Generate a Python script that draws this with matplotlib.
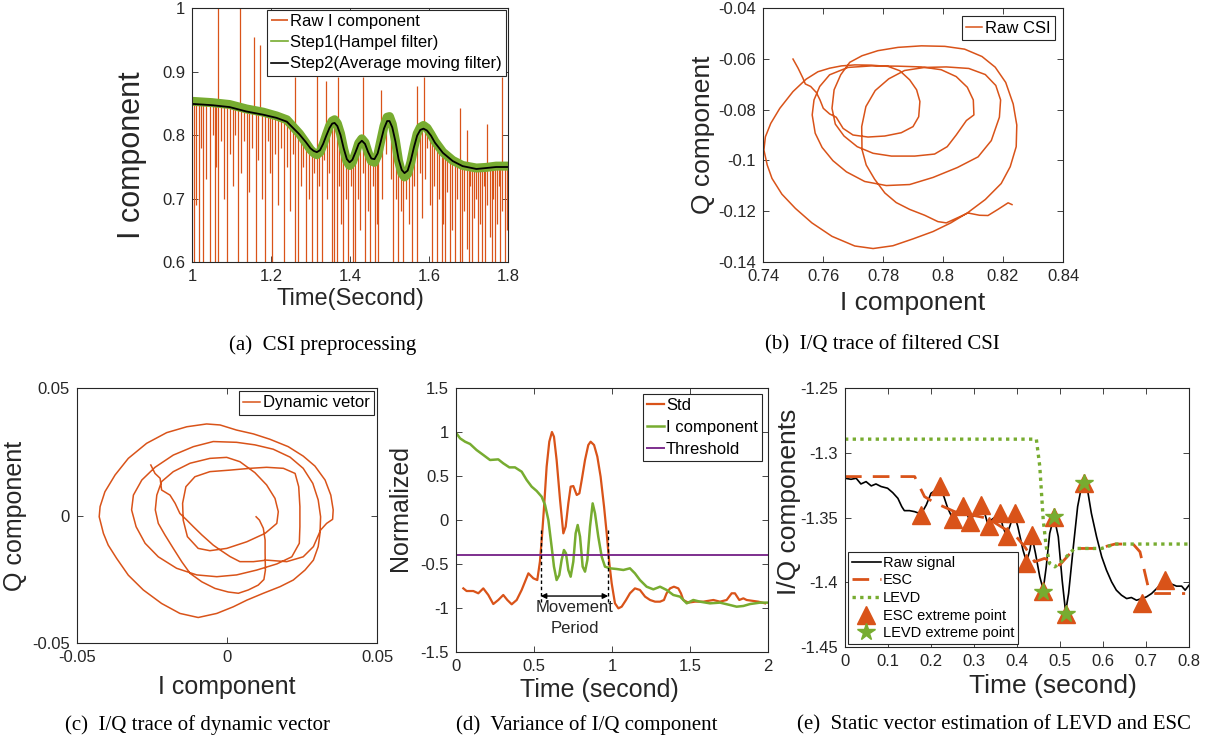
import matplotlib
matplotlib.use('Agg')
import matplotlib.pyplot as plt
from matplotlib.ticker import FormatStrFormatter

plt.rcParams['font.family'] = ['Liberation Sans', 'DejaVu Sans']
plt.rcParams['axes.unicode_minus'] = False

RED = '#D95319'
GREEN = '#77AC30'
PURPLE = '#7E2F8E'
AXC = '#262626'

# ---------------- (a) CSI preprocessing ----------------
a_t = [1.000, 1.050, 1.095, 1.138, 1.180, 1.214, 1.240, 1.256, 1.272, 1.288, 1.300, 1.308,
       1.316, 1.324, 1.332, 1.340, 1.348, 1.355, 1.361, 1.368, 1.376, 1.384, 1.392, 1.399,
       1.406, 1.414, 1.422, 1.430, 1.438, 1.446, 1.454, 1.462, 1.470, 1.478, 1.486, 1.494,
       1.500, 1.507, 1.515, 1.523, 1.531, 1.538, 1.546, 1.554, 1.562, 1.570, 1.578, 1.586,
       1.595, 1.605, 1.615, 1.635, 1.660, 1.685, 1.720, 1.745, 1.770, 1.800]
a_step2 = [0.849, 0.847, 0.844, 0.837, 0.832, 0.827, 0.821, 0.811, 0.801, 0.789, 0.779, 0.775,
           0.773, 0.776, 0.786, 0.799, 0.811, 0.818, 0.819, 0.814, 0.800, 0.779, 0.762, 0.757,
           0.761, 0.773, 0.786, 0.791, 0.786, 0.773, 0.763, 0.762, 0.771, 0.790, 0.810, 0.822,
           0.822, 0.812, 0.790, 0.762, 0.745, 0.740, 0.744, 0.760, 0.781, 0.799, 0.808, 0.810,
           0.807, 0.799, 0.788, 0.772, 0.759, 0.751, 0.7465, 0.748, 0.7496, 0.7496]
a_step1 = [0.853, 0.851, 0.848, 0.841, 0.836, 0.830, 0.824, 0.813, 0.802, 0.788, 0.777, 0.772,
           0.769, 0.773, 0.785, 0.800, 0.814, 0.822, 0.824, 0.818, 0.802, 0.778, 0.759, 0.752,
           0.757, 0.771, 0.787, 0.794, 0.788, 0.772, 0.759, 0.757, 0.768, 0.791, 0.814, 0.828,
           0.829, 0.817, 0.791, 0.759, 0.740, 0.734, 0.739, 0.757, 0.781, 0.802, 0.812, 0.815,
           0.811, 0.801, 0.790, 0.773, 0.760, 0.752, 0.748, 0.749, 0.751, 0.751]

# raw outliers pointing down: time, lowest value, value where the spike leaves the signal
a_down_t = [1.004, 1.010, 1.018, 1.024, 1.029, 1.036, 1.046, 1.052, 1.057, 1.062, 1.067, 1.074,
            1.081, 1.088, 1.095, 1.103, 1.110, 1.117, 1.124, 1.131, 1.138, 1.145, 1.152, 1.161,
            1.168, 1.176, 1.185, 1.192, 1.198, 1.203, 1.210, 1.218, 1.226, 1.234, 1.241, 1.248,
            1.255, 1.262, 1.269, 1.276, 1.282, 1.288, 1.295, 1.303, 1.310, 1.316, 1.322, 1.328,
            1.335, 1.342, 1.348, 1.354, 1.360, 1.366, 1.372, 1.378, 1.383, 1.390, 1.396, 1.403,
            1.408, 1.413, 1.420, 1.426, 1.432, 1.438, 1.445, 1.451, 1.457, 1.463, 1.468, 1.472,
            1.480, 1.492, 1.503, 1.510, 1.516, 1.522, 1.529, 1.535, 1.542, 1.549, 1.556, 1.562,
            1.569, 1.576, 1.583, 1.590, 1.596, 1.602, 1.607, 1.613, 1.619, 1.626, 1.632, 1.636,
            1.640, 1.646, 1.653, 1.659, 1.666, 1.672, 1.678, 1.683, 1.689, 1.695, 1.700, 1.704,
            1.708, 1.714, 1.720, 1.725, 1.729, 1.733, 1.738, 1.742, 1.748, 1.754, 1.759, 1.763,
            1.767, 1.772, 1.776, 1.780, 1.786, 1.792, 1.797]
a_down_lo = [0.60, 0.69, 0.60, 0.78, 0.60, 0.73, 0.60, 0.80, 0.60, 0.75, 0.60, 0.79,
             0.70, 0.60, 0.77, 0.72, 0.80, 0.60, 0.74, 0.79, 0.60, 0.71, 0.78, 0.60,
             0.76, 0.70, 0.60, 0.79, 0.74, 0.60, 0.77, 0.69, 0.78, 0.60, 0.75, 0.68,
             0.77, 0.60, 0.60, 0.72, 0.75, 0.60, 0.70, 0.60, 0.74, 0.60, 0.72, 0.60,
             0.76, 0.70, 0.74, 0.60, 0.60, 0.60, 0.72, 0.66, 0.60, 0.70, 0.60, 0.72,
             0.60, 0.60, 0.70, 0.65, 0.74, 0.60, 0.68, 0.60, 0.72, 0.60, 0.66, 0.60,
             0.70, 0.77, 0.73, 0.60, 0.70, 0.60, 0.68, 0.60, 0.70, 0.66, 0.60, 0.72,
             0.60, 0.74, 0.67, 0.73, 0.78, 0.69, 0.60, 0.72, 0.60, 0.70, 0.60, 0.66,
             0.60, 0.71, 0.60, 0.65, 0.60, 0.70, 0.60, 0.60, 0.68, 0.62, 0.60, 0.72,
             0.60, 0.67, 0.70, 0.60, 0.66, 0.60, 0.72, 0.60, 0.69, 0.64, 0.60, 0.70,
             0.60, 0.66, 0.72, 0.60, 0.68, 0.60, 0.65]
a_down_hi = [0.849, 0.849, 0.848, 0.848, 0.848, 0.848, 0.847, 0.847, 0.847, 0.846, 0.846, 0.846,
             0.845, 0.845, 0.844, 0.843, 0.842, 0.841, 0.840, 0.838, 0.837, 0.836, 0.835, 0.834,
             0.833, 0.832, 0.831, 0.830, 0.829, 0.828, 0.827, 0.826, 0.824, 0.821, 0.818, 0.815,
             0.811, 0.806, 0.801, 0.797, 0.792, 0.788, 0.782, 0.777, 0.773, 0.773, 0.776, 0.782,
             0.790, 0.801, 0.810, 0.815, 0.819, 0.815, 0.806, 0.793, 0.781, 0.770, 0.760, 0.759,
             0.764, 0.770, 0.782, 0.789, 0.790, 0.786, 0.775, 0.766, 0.762, 0.764, 0.768, 0.775,
             0.800, 0.821, 0.815, 0.795, 0.778, 0.765, 0.750, 0.743, 0.742, 0.748, 0.776, 0.790,
             0.800, 0.806, 0.809, 0.809, 0.806, 0.801, 0.797, 0.790, 0.785, 0.779, 0.775, 0.773,
             0.770, 0.767, 0.763, 0.760, 0.757, 0.754, 0.752, 0.751, 0.750, 0.749, 0.748, 0.748,
             0.747, 0.747, 0.7465, 0.7465, 0.747, 0.747, 0.747, 0.748, 0.748, 0.748, 0.749, 0.749,
             0.749, 0.749, 0.749, 0.749, 0.750, 0.750, 0.750]
# raw outliers pointing up
a_up_t = [1.066, 1.121, 1.156, 1.173, 1.262, 1.317, 1.340, 1.370, 1.434, 1.478, 1.569, 1.588,
          1.678, 1.695, 1.746, 1.784]
a_up_tip = [1.00, 1.00, 0.955, 0.942, 0.892, 0.895, 0.885, 0.892, 0.892, 0.871, 0.877, 0.892,
            0.842, 0.808, 0.818, 0.892]
a_up_base = [0.846, 0.840, 0.835, 0.833, 0.806, 0.773, 0.798, 0.811, 0.790, 0.795, 0.800, 0.809,
             0.752, 0.749, 0.748, 0.749]

# ---------------- (b) I/Q trace of filtered CSI ----------------
b_i = [0.7500, 0.7517, 0.7533, 0.7541, 0.7559, 0.7578, 0.7590, 0.7601, 0.7622, 0.7644, 0.7667,
       0.7700, 0.7750, 0.7806, 0.7861, 0.7900, 0.7919, 0.7923, 0.7912, 0.7889, 0.7856, 0.7817,
       0.7761, 0.7706, 0.7661, 0.7622, 0.7583, 0.7544, 0.7500, 0.7456, 0.7426, 0.7408, 0.7403,
       0.7414, 0.7430, 0.7463, 0.7508, 0.7563, 0.7630, 0.7706, 0.7767, 0.7833, 0.7900, 0.7967,
       0.8026, 0.8081, 0.8141, 0.8194, 0.8224, 0.8244, 0.8246, 0.8234, 0.8209, 0.8174, 0.8130,
       0.8072, 0.8006, 0.7928, 0.7850, 0.7783, 0.7730, 0.7689, 0.7659, 0.7637, 0.7630, 0.7641,
       0.7670, 0.7714, 0.7767, 0.7828, 0.7906, 0.7972, 0.8014, 0.8044, 0.8078, 0.8103, 0.8101,
       0.8081, 0.8044, 0.7994, 0.7928, 0.7850, 0.7761, 0.7683, 0.7622, 0.7589, 0.7570, 0.7564,
       0.7574, 0.7597, 0.7633, 0.7678, 0.7739, 0.7811, 0.7889, 0.7967, 0.8048, 0.8117, 0.8161,
       0.8188, 0.8192, 0.8176, 0.8141, 0.8086, 0.8011, 0.7939, 0.7872, 0.7819, 0.7774, 0.7743,
       0.7729, 0.7730, 0.7744, 0.7772, 0.7806, 0.7844, 0.7889, 0.7939, 0.7983, 0.8011, 0.8050,
       0.8083, 0.8122, 0.8150, 0.8183, 0.8217, 0.8230]
b_q = [-0.0601, -0.0637, -0.0676, -0.0699, -0.0709, -0.0733, -0.0762, -0.0795, -0.0817, -0.0830,
       -0.0874, -0.0900, -0.0908, -0.0904, -0.0891, -0.0867, -0.0828, -0.0768, -0.0722, -0.0683,
       -0.0647, -0.0630, -0.0625, -0.0624, -0.0628, -0.0637, -0.0651, -0.0680, -0.0729, -0.0795,
       -0.0854, -0.0907, -0.0959, -0.1018, -0.1071, -0.1133, -0.1189, -0.1246, -0.1299, -0.1337,
       -0.1347, -0.1336, -0.1309, -0.1280, -0.1246, -0.1207, -0.1154, -0.1091, -0.1025, -0.0946,
       -0.0861, -0.0778, -0.0693, -0.0633, -0.0591, -0.0562, -0.0551, -0.0549, -0.0555, -0.0568,
       -0.0588, -0.0614, -0.0663, -0.0722, -0.0795, -0.0857, -0.0904, -0.0946, -0.0972, -0.0983,
       -0.0983, -0.0975, -0.0946, -0.0900, -0.0843, -0.0821, -0.0762, -0.0712, -0.0670, -0.0643,
       -0.0632, -0.0629, -0.0628, -0.0634, -0.0663, -0.0709, -0.0762, -0.0821, -0.0893, -0.0949,
       -0.1001, -0.1045, -0.1083, -0.1099, -0.1095, -0.1067, -0.1028, -0.0986, -0.0922, -0.0830,
       -0.0762, -0.0705, -0.0662, -0.0638, -0.0632, -0.0634, -0.0646, -0.0679, -0.0725, -0.0788,
       -0.0867, -0.0957, -0.1018, -0.1074, -0.1128, -0.1166, -0.1193, -0.1216, -0.1241, -0.1246,
       -0.1225, -0.1207, -0.1216, -0.1217, -0.1193, -0.1167, -0.1174]

# ---------------- (c) I/Q trace of dynamic vector ----------------
c_i = [-0.0254, -0.0240, -0.0223, -0.0218, -0.0190, -0.0173, -0.0157, -0.0134, -0.0112, -0.0084,
       -0.0046, -0.0023, 0.0010, 0.0043, 0.0088, 0.0132, 0.0199, 0.0254, 0.0288, 0.0312, 0.0332,
       0.0352, 0.0354, 0.0346, 0.0327, 0.0293, 0.0254, 0.0204, 0.0143, 0.0088, 0.0032, -0.0023,
       -0.0068, -0.0134, -0.0201, -0.0268, -0.0329, -0.0373, -0.0407, -0.0423, -0.0426, -0.0412,
       -0.0396, -0.0368, -0.0329, -0.0279, -0.0218, -0.0157, -0.0096, -0.0034, 0.0021, 0.0066,
       0.0121, 0.0177, 0.0221, 0.0260, 0.0288, 0.0304, 0.0310, 0.0312, 0.0304, 0.0286, 0.0254,
       0.0210, 0.0154, 0.0093, 0.0032, -0.0046, -0.0112, -0.0179, -0.0240, -0.0284, -0.0312,
       -0.0318, -0.0303, -0.0273, -0.0229, -0.0168, -0.0101, -0.0034, 0.0032, 0.0099, 0.0166,
       0.0216, 0.0241, 0.0243, 0.0243, 0.0239, 0.0227, 0.0188, 0.0132, 0.0077, 0.0010, -0.0057,
       -0.0107, -0.0137, -0.0148, -0.0146, -0.0132, -0.0096, -0.0057, -0.0001, 0.0066, 0.0127,
       0.0166, 0.0171, 0.0160, 0.0132, 0.0093, 0.0043, -0.0001, -0.0057, -0.0123, -0.0179,
       -0.0218, -0.0234, -0.0239, -0.0229, -0.0207, -0.0179, -0.0151, -0.0123, -0.0084, -0.0040,
       0.0004, 0.0038, 0.0071, 0.0104, 0.0123, 0.0128, 0.0127, 0.0127, 0.0121, 0.0108, 0.0097]
c_q = [0.0198, 0.0165, 0.0146, 0.0100, 0.0080, 0.0048, 0.0008, -0.0018, -0.0044, -0.0076,
       -0.0116, -0.0135, -0.0161, -0.0181, -0.0181, -0.0175, -0.0181, -0.0162, -0.0122, -0.0057,
       -0.0031, -0.0015, 0.0022, 0.0080, 0.0139, 0.0194, 0.0233, 0.0270, 0.0299, 0.0320, 0.0335,
       0.0355, 0.0359, 0.0348, 0.0325, 0.0283, 0.0224, 0.0159, 0.0093, 0.0035, -0.0005, -0.0070,
       -0.0116, -0.0168, -0.0234, -0.0292, -0.0345, -0.0384, -0.0400, -0.0384, -0.0358, -0.0332,
       -0.0305, -0.0279, -0.0253, -0.0214, -0.0175, -0.0122, -0.0070, -0.0005, 0.0061, 0.0126,
       0.0185, 0.0229, 0.0260, 0.0277, 0.0287, 0.0290, 0.0270, 0.0237, 0.0189, 0.0139, 0.0080,
       0.0022, -0.0044, -0.0109, -0.0162, -0.0207, -0.0233, -0.0240, -0.0233, -0.0214, -0.0190,
       -0.0162, -0.0109, -0.0044, 0.0035, 0.0113, 0.0165, 0.0185, 0.0189, 0.0185, 0.0178, 0.0172,
       0.0152, 0.0113, 0.0048, -0.0018, -0.0083, -0.0129, -0.0138, -0.0129, -0.0103, -0.0070,
       -0.0031, 0.0015, 0.0067, 0.0120, 0.0168, 0.0211, 0.0228, 0.0224, 0.0205, 0.0172,
       0.0133, 0.0080, 0.0022, -0.0031, -0.0076, -0.0129, -0.0181, -0.0227, -0.0260, -0.0286,
       -0.0300, -0.0305, -0.0292, -0.0273, -0.0251, -0.0214, -0.0148, -0.0096, -0.0050, -0.0018,
       -0.0005]

# ---------------- (d) Variance of I/Q component ----------------
d_std_t = [0.047, 0.068, 0.111, 0.143, 0.175, 0.207, 0.239, 0.271, 0.303, 0.329, 0.357, 0.389,
           0.421, 0.464, 0.496, 0.521, 0.538, 0.551, 0.566, 0.581, 0.598, 0.615, 0.628, 0.645,
           0.667, 0.688, 0.703, 0.720, 0.735, 0.752, 0.774, 0.791, 0.806, 0.827, 0.848, 0.863,
           0.885, 0.906, 0.927, 0.949, 0.966, 0.983, 0.998, 1.019, 1.041, 1.062, 1.090, 1.115,
           1.147, 1.179, 1.212, 1.244, 1.276, 1.308, 1.333, 1.350, 1.372, 1.397, 1.425, 1.442,
           1.457, 1.489, 1.532, 1.585, 1.650, 1.692, 1.735, 1.767, 1.788, 1.816, 1.842, 1.863,
           1.895, 1.938, 1.981]
d_std = [-0.777, -0.807, -0.807, -0.833, -0.777, -0.852, -0.955, -0.909, -0.852, -0.909, -0.958,
         -0.909, -0.795, -0.606, -0.663, -0.682, -0.473, -0.189, 0.189, 0.606, 0.890, 1.000,
         0.947, 0.682, 0.227, -0.152, -0.076, 0.189, 0.379, 0.386, 0.284, 0.303, 0.455, 0.682,
         0.852, 0.890, 0.852, 0.720, 0.492, 0.152, -0.152, -0.492, -0.720, -0.947, -1.004,
         -0.985, -0.909, -0.833, -0.777, -0.795, -0.871, -0.909, -0.928, -0.928, -0.909, -0.833,
         -0.777, -0.758, -0.777, -0.833, -0.909, -0.939, -0.928, -0.928, -0.909, -0.928, -0.909,
         -0.833, -0.833, -0.909, -0.890, -0.909, -0.917, -0.928, -0.947]
d_i_t = [0.0, 0.026, 0.058, 0.090, 0.132, 0.175, 0.218, 0.271, 0.303, 0.342, 0.378, 0.421,
         0.453, 0.485, 0.517, 0.549, 0.571, 0.592, 0.613, 0.628, 0.645, 0.662, 0.677, 0.692,
         0.705, 0.720, 0.735, 0.752, 0.767, 0.780, 0.795, 0.812, 0.827, 0.842, 0.859, 0.876,
         0.891, 0.912, 0.934, 0.955, 0.987, 1.030, 1.073, 1.115, 1.147, 1.179, 1.222, 1.265,
         1.308, 1.350, 1.393, 1.436, 1.479, 1.521, 1.564, 1.628, 1.692, 1.756, 1.799, 1.842,
         1.885, 1.949, 2.0]
d_i = [0.992, 0.928, 0.890, 0.864, 0.795, 0.739, 0.682, 0.689, 0.644, 0.598, 0.598, 0.549,
       0.455, 0.379, 0.330, 0.265, 0.170, 0.0, -0.303, -0.530, -0.682, -0.625, -0.455, -0.341,
       -0.379, -0.568, -0.644, -0.473, -0.152, -0.057, -0.189, -0.530, -0.587, -0.455, -0.076,
       0.189, 0.076, -0.189, -0.417, -0.530, -0.549, -0.557, -0.568, -0.549, -0.606, -0.682,
       -0.758, -0.788, -0.758, -0.795, -0.852, -0.871, -0.947, -0.909, -0.928, -0.947, -0.939,
       -0.966, -0.985, -0.977, -0.955, -0.939, -0.939]
d_threshold = -0.4
d_period = [0.543, 0.976]

# ---------------- (e) Static vector estimation ----------------
e_t = [0.0, 0.014, 0.026, 0.037, 0.049, 0.061, 0.072, 0.084, 0.099, 0.111, 0.123, 0.132, 0.138,
       0.150, 0.162, 0.177, 0.189, 0.200, 0.212, 0.220, 0.230, 0.239, 0.249, 0.256, 0.266, 0.274,
       0.282, 0.290, 0.297, 0.308, 0.317, 0.325, 0.332, 0.340, 0.350, 0.360, 0.367, 0.375, 0.383,
       0.393, 0.402, 0.414, 0.422, 0.430, 0.435, 0.443, 0.453, 0.461, 0.468, 0.476, 0.486, 0.496,
       0.505, 0.513, 0.520, 0.531, 0.541, 0.550, 0.555, 0.564, 0.573, 0.585, 0.597, 0.608, 0.620,
       0.631, 0.643, 0.655, 0.666, 0.678, 0.690, 0.701, 0.713, 0.725, 0.736, 0.748, 0.760, 0.771,
       0.783, 0.791, 0.800]
e_raw = [-1.3197, -1.3205, -1.3197, -1.3241, -1.3223, -1.3256, -1.3241, -1.3261, -1.3274,
         -1.3308, -1.3352, -1.3416, -1.3447, -1.3447, -1.3455, -1.3473, -1.3403, -1.3313,
         -1.3287, -1.3274, -1.3339, -1.3429, -1.3499, -1.3473, -1.3437, -1.3411, -1.3463,
         -1.3519, -1.3494, -1.3455, -1.3403, -1.3468, -1.3550, -1.3519, -1.3494, -1.3468,
         -1.3571, -1.3635, -1.3571, -1.3468, -1.3571, -1.3752, -1.3842, -1.3752, -1.3648,
         -1.3777, -1.3958, -1.4056, -1.3881, -1.3623, -1.3494, -1.3648, -1.3984, -1.4229,
         -1.4087, -1.3726, -1.3416, -1.3261, -1.3230, -1.3287, -1.3468, -1.3648, -1.3803,
         -1.3906, -1.3997, -1.4061, -1.4100, -1.4126, -1.4118, -1.4139, -1.4126, -1.4113,
         -1.4087, -1.4048, -1.4010, -1.4023, -1.4015, -1.4030, -1.4030, -1.4061, -1.4023]
e_esc_t = [0.0, 0.162, 0.185, 0.208, 0.255, 0.294, 0.332, 0.363, 0.395, 0.418, 0.441, 0.464,
           0.499, 0.534, 0.589, 0.628, 0.670, 0.686, 0.705, 0.717, 0.791]
e_esc = [-1.3184, -1.3184, -1.3339, -1.3385, -1.3455, -1.3481, -1.3506, -1.3571, -1.3635,
         -1.3726, -1.3842, -1.3816, -1.3868, -1.3739, -1.3739, -1.3705, -1.3705, -1.3765,
         -1.4035, -1.4087, -1.4087]
e_levd_t = [0.0, 0.445, 0.453, 0.461, 0.468, 0.476, 0.488, 0.503, 0.534, 0.597, 0.628, 0.800]
e_levd = [-1.2895, -1.2895, -1.3106, -1.3519, -1.3726, -1.3855, -1.3881, -1.3842, -1.3739,
          -1.3739, -1.3705, -1.3705]
e_esc_pt_t = [0.177, 0.220, 0.251, 0.274, 0.290, 0.317, 0.336, 0.360, 0.377, 0.395, 0.422,
              0.435, 0.461, 0.486, 0.513, 0.555, 0.690, 0.744]
e_esc_pt = [-1.3481, -1.3256, -1.3514, -1.3411, -1.3532, -1.3403, -1.3566, -1.3468, -1.3643,
            -1.3468, -1.3850, -1.3635, -1.4066, -1.3494, -1.4242, -1.3230, -1.4159, -1.3984]
e_levd_pt_t = [0.461, 0.486, 0.513, 0.555]
e_levd_pt = [-1.4074, -1.3494, -1.4242, -1.3230]

W, H = 1207, 742
fig = plt.figure(figsize=(W / 100, H / 100), dpi=100)


def box(l, t, r, b):
    return [l / W, 1 - b / H, (r - l) / W, (b - t) / H]


def style(ax, size):
    ax.tick_params(direction='in', top=True, right=True, length=4, width=0.6,
                   colors=AXC, labelsize=size, pad=5)
    for s in ax.spines.values():
        s.set_linewidth(0.8)
        s.set_color(AXC)
    ax.xaxis.set_major_formatter(FormatStrFormatter('%g'))
    ax.yaxis.set_major_formatter(FormatStrFormatter('%g'))


def leg(ax, size, spacing=0.25, **kw):
    lg = ax.legend(fontsize=size, fancybox=False, framealpha=1, edgecolor=AXC,
                   borderpad=0.25, labelspacing=spacing, handletextpad=0.15, **kw)
    lg.get_frame().set_linewidth(0.8)
    return lg


# (a)
ax = fig.add_axes(box(192, 8, 508, 262))
ax.vlines(a_down_t, a_down_lo, a_down_hi, color=RED, lw=0.9, label='Raw I component')
ax.vlines(a_up_t, a_up_base, a_up_tip, color=RED, lw=0.9)
ax.plot(a_t, a_step1, color=GREEN, lw=6.5, solid_joinstyle='round', label='Step1(Hampel filter)')
ax.plot(a_t, a_step2, color='k', lw=1.3, label='Step2(Average moving filter)')
ax.set_xlim(1, 1.8)
ax.set_ylim(0.6, 1)
ax.set_xticks([1, 1.2, 1.4, 1.6, 1.8])
ax.set_yticks([0.6, 0.7, 0.8, 0.9, 1])
style(ax, 12)
ax.set_xlabel('Time(Second)', fontsize=17, color=AXC, labelpad=3)
ax.set_ylabel('I component', fontsize=22, color=AXC)
ax.yaxis.set_label_coords(-0.142, 0.42)
lg = leg(ax, 12, spacing=0.38, loc='upper right', borderaxespad=0.1, handlelength=1.0)
for ln in lg.get_lines():
    ln.set_linewidth(1.2)
fig.text(323 / W, 1 - 345 / H, '(a)  CSI preprocessing', family='Liberation Serif',
         fontsize=15, ha='center', va='center')

# (b)
ax = fig.add_axes(box(763, 8, 1063, 262))
ax.plot(b_i, b_q, color=RED, lw=1.1, label='Raw CSI')
ax.set_xlim(0.74, 0.84)
ax.set_ylim(-0.14, -0.04)
ax.set_xticks([0.74, 0.76, 0.78, 0.8, 0.82, 0.84])
ax.set_yticks([-0.14, -0.12, -0.1, -0.08, -0.06, -0.04])
style(ax, 12)
ax.set_xlabel('I component', fontsize=19, color=AXC, labelpad=5)
ax.set_ylabel('Q component', fontsize=19, color=AXC, labelpad=2)
leg(ax, 12, loc='upper right', borderaxespad=0.5, handlelength=1.0)
fig.text(882 / W, 1 - 345 / H, '(b)  I/Q trace of filtered CSI', family='Liberation Serif',
         fontsize=15, ha='center', va='center')

# (c)
ax = fig.add_axes(box(77, 388, 377, 643))
ax.plot(c_i, c_q, color=RED, lw=1.1, label='Dynamic vetor')
ax.set_xlim(-0.05, 0.05)
ax.set_ylim(-0.05, 0.05)
ax.set_xticks([-0.05, 0, 0.05])
ax.set_yticks([-0.05, 0, 0.05])
style(ax, 12)
ax.set_xlabel('I component', fontsize=18, color=AXC, labelpad=7)
ax.set_ylabel('Q component', fontsize=18, color=AXC, labelpad=4)
leg(ax, 12, loc='upper right', borderaxespad=0.2, handlelength=1.0)
fig.text(198 / W, 1 - 725 / H, '(c)  I/Q trace of dynamic vector', family='Liberation Serif',
         fontsize=15, ha='center', va='center')

# (d)
ax = fig.add_axes(box(456, 388, 768, 652))
ax.plot(d_std_t, d_std, color=RED, lw=1.6, label='Std')
ax.plot(d_i_t, d_i, color=GREEN, lw=1.8, label='I component')
ax.axhline(d_threshold, color=PURPLE, lw=1.4, label='Threshold')
ax.vlines(d_period, -0.11, -0.93, colors='k', linestyles=(0, (2.5, 2)), lw=1.0)
ax.annotate('', xy=(d_period[0], -0.864), xytext=(d_period[1], -0.864),
            arrowprops=dict(arrowstyle='<|-|>', color='k', lw=1.0, mutation_scale=8,
                            shrinkA=0, shrinkB=0))
ax.text(sum(d_period) / 2, -1.0, 'Movement', fontsize=12, ha='center', va='center', color=AXC)
ax.text(sum(d_period) / 2, -1.23, 'Period', fontsize=12, ha='center', va='center', color=AXC)
ax.set_xlim(0, 2)
ax.set_ylim(-1.5, 1.5)
ax.set_xticks([0, 0.5, 1, 1.5, 2])
ax.set_yticks([-1.5, -1, -0.5, 0, 0.5, 1, 1.5])
style(ax, 12)
ax.set_xlabel('Time (second)', fontsize=18, color=AXC)
ax.xaxis.set_label_coords(0.46, -0.098)
ax.set_ylabel('Normalized', fontsize=18, color=AXC)
ax.yaxis.set_label_coords(-0.142, 0.545)
leg(ax, 12, spacing=0.42, loc='upper right', borderaxespad=0.35, handlelength=1.0)
fig.text(587 / W, 1 - 725 / H, '(d)  Variance of I/Q component', family='Liberation Serif',
         fontsize=15, ha='center', va='center')

# (e)
ax = fig.add_axes(box(845, 388, 1189, 647))
ax.plot(e_t, e_raw, color='k', lw=1.2, label='Raw signal')
ax.plot(e_esc_t, e_esc, color=RED, lw=2.0, dashes=(6, 4), label='ESC')
ax.plot(e_levd_t, e_levd, color=GREEN, lw=2.4, dashes=(1, 1.3), label='LEVD')
ax.plot(e_esc_pt_t, e_esc_pt, ls='none', marker='^', ms=13, color=RED, mec=RED,
        label='ESC extreme point')
ax.plot(e_levd_pt_t, e_levd_pt, ls='none', marker='*', ms=13, color=GREEN, mec=GREEN,
        label='LEVD extreme point')
ax.set_xlim(0, 0.8)
ax.set_ylim(-1.45, -1.25)
ax.set_xticks([0, 0.1, 0.2, 0.3, 0.4, 0.5, 0.6, 0.7, 0.8])
ax.set_yticks([-1.45, -1.4, -1.35, -1.3, -1.25])
style(ax, 12)
ax.set_xlabel('Time (second)', fontsize=19, color=AXC)
ax.xaxis.set_label_coords(0.605, -0.105)
ax.set_ylabel('I/Q components', fontsize=19, color=AXC)
ax.yaxis.set_label_coords(-0.128, 0.56)
leg(ax, 10.5, loc='lower left', borderaxespad=0.2, handlelength=2.0)
fig.text(994 / W, 1 - 725 / H, '(e)  Static vector estimation of LEVD and ESC',
         family='Liberation Serif', fontsize=15, ha='center', va='center')

fig.savefig('out.png', dpi=100)
